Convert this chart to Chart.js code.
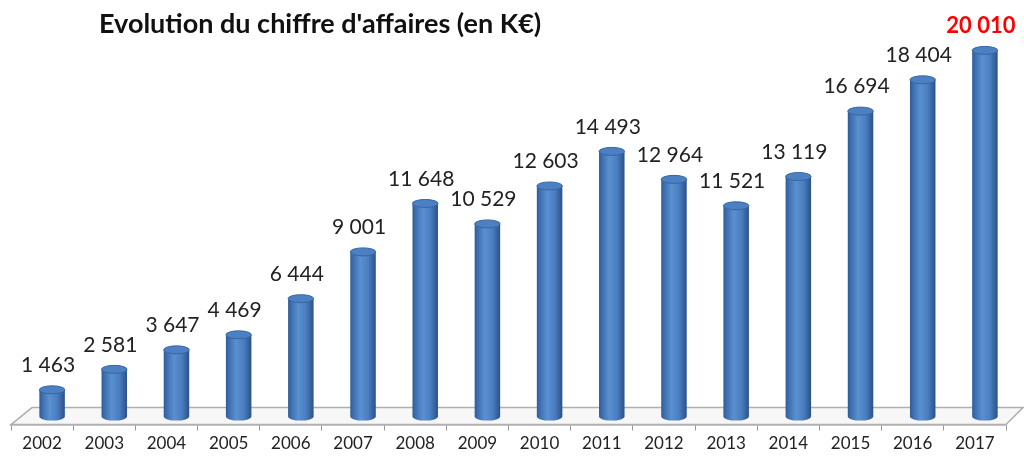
<!DOCTYPE html>
<html>
<head>
<meta charset="utf-8">
<script src="https://cdn.jsdelivr.net/npm/chart.js@4.4.1/dist/chart.umd.min.js"></script>
<style>
  html, body { margin: 0; padding: 0; background: #fff; }
  #wrap { width: 1024px; height: 457px; }
</style>
</head>
<body>
<div id="wrap"><canvas id="ca" width="1024" height="457"></canvas></div>
<script>
  // Chiffre d'affaires par année (K€)
  const years = ['2002', '2003', '2004', '2005', '2006', '2007', '2008', '2009',
    '2010', '2011', '2012', '2013', '2014', '2015', '2016', '2017'];
  const revenue = [1463, 2581, 3647, 4469, 6444, 9001, 11648, 10529,
    12603, 14493, 12964, 11521, 13119, 16694, 18404, 20010];
  const chartTitle = "Evolution du chiffre d'affaires (en K€)";

  // Profondeur de la vue 3D (décalage des cylindres vers le fond).
  const DEPTH_X = 10;
  const DEPTH_Y = 8;

  function fmt(v) {
    return String(v).replace(/\B(?=(\d{3})+(?!\d))/g, ' ');
  }

  // Sol 3D sous les barres.
  const floorPlugin = {
    id: 'floor',
    beforeDatasetsDraw: function (chart) {
      const a = chart.chartArea;
      const c = chart.ctx;
      c.save();
      c.beginPath();
      c.moveTo(a.left, a.bottom);
      c.lineTo(a.left + 2 * DEPTH_X + 1, a.bottom - 2 * DEPTH_Y - 1);
      c.lineTo(a.right + 2 * DEPTH_X - 3, a.bottom - 2 * DEPTH_Y - 1);
      c.lineTo(a.right, a.bottom);
      c.closePath();
      c.fillStyle = '#f7f7f7';
      c.fill();
      c.strokeStyle = '#b0b0b0';
      c.lineWidth = 1.5;
      c.stroke();
      c.restore();
    }
  };

  // Dessine chaque barre comme un cylindre.
  const cylinderPlugin = {
    id: 'cylinders',
    afterDatasetsDraw: function (chart) {
      const c = chart.ctx;
      const meta = chart.getDatasetMeta(0);
      meta.data.forEach(function (bar, i) {
        const cx = bar.x + DEPTH_X;
        const rx = bar.width / 2;
        const ry = 4;
        const top = bar.y - DEPTH_Y;
        const base = bar.base - DEPTH_Y;

        c.save();
        const g = c.createLinearGradient(cx - rx, 0, cx + rx, 0);
        g.addColorStop(0, '#2f5b94');
        g.addColorStop(0.12, '#3d6fb0');
        g.addColorStop(0.4, '#5a8fd0');
        g.addColorStop(0.7, '#4a7ec0');
        g.addColorStop(1, '#2a5189');

        c.beginPath();
        c.moveTo(cx - rx, top);
        c.lineTo(cx - rx, base);
        c.ellipse(cx, base, rx, ry, 0, Math.PI, 0, true);
        c.lineTo(cx + rx, top);
        c.closePath();
        c.fillStyle = g;
        c.fill();

        c.beginPath();
        c.ellipse(cx, top, rx, ry, 0, 0, Math.PI * 2);
        c.fillStyle = '#4d80c2';
        c.fill();
        c.strokeStyle = '#3567a6';
        c.lineWidth = 1;
        c.stroke();
        c.restore();

        // Étiquette de valeur (la dernière année en rouge)
        const last = i === revenue.length - 1;
        c.save();
        c.font = (last ? 'bold 22px' : '21px') + ' Lato';
        c.fillStyle = last ? '#ff0000' : '#222222';
        c.textAlign = 'center';
        c.textBaseline = 'bottom';
        c.fillText(fmt(revenue[i]), cx - 4, top - ry - 10);
        c.restore();
      });
    }
  };

  const titlePlugin = {
    id: 'leftTitle',
    afterDraw: function (chart) {
      const c = chart.ctx;
      c.save();
      c.font = 'bold 27px Lato';
      c.fillStyle = '#111111';
      c.textAlign = 'left';
      c.textBaseline = 'alphabetic';
      c.fillText(chartTitle, 99, 33);
      c.restore();
    }
  };

  new Chart(document.getElementById('ca'), {
    type: 'bar',
    data: {
      labels: years,
      datasets: [{
        data: revenue,
        backgroundColor: 'rgba(0,0,0,0)',
        borderWidth: 0,
        barPercentage: 0.41,
        categoryPercentage: 1
      }]
    },
    options: {
      responsive: false,
      animation: false,
      layout: { padding: { left: 11, right: 18, top: 22, bottom: 0 } },
      plugins: {
        legend: { display: false },
        tooltip: { enabled: false },
        title: { display: false }
      },
      scales: {
        x: {
          grid: {
            offset: true,
            drawOnChartArea: false,
            color: '#999999',
            tickLength: 6
          },
          border: { color: '#999999', width: 1.5 },
          ticks: {
            color: '#222222',
            font: { family: 'Lato', size: 17 },
            padding: 3
          }
        },
        y: {
          display: false,
          min: 0,
          max: 22000
        }
      }
    },
    plugins: [floorPlugin, cylinderPlugin, titlePlugin]
  });
</script>
</body>
</html>
